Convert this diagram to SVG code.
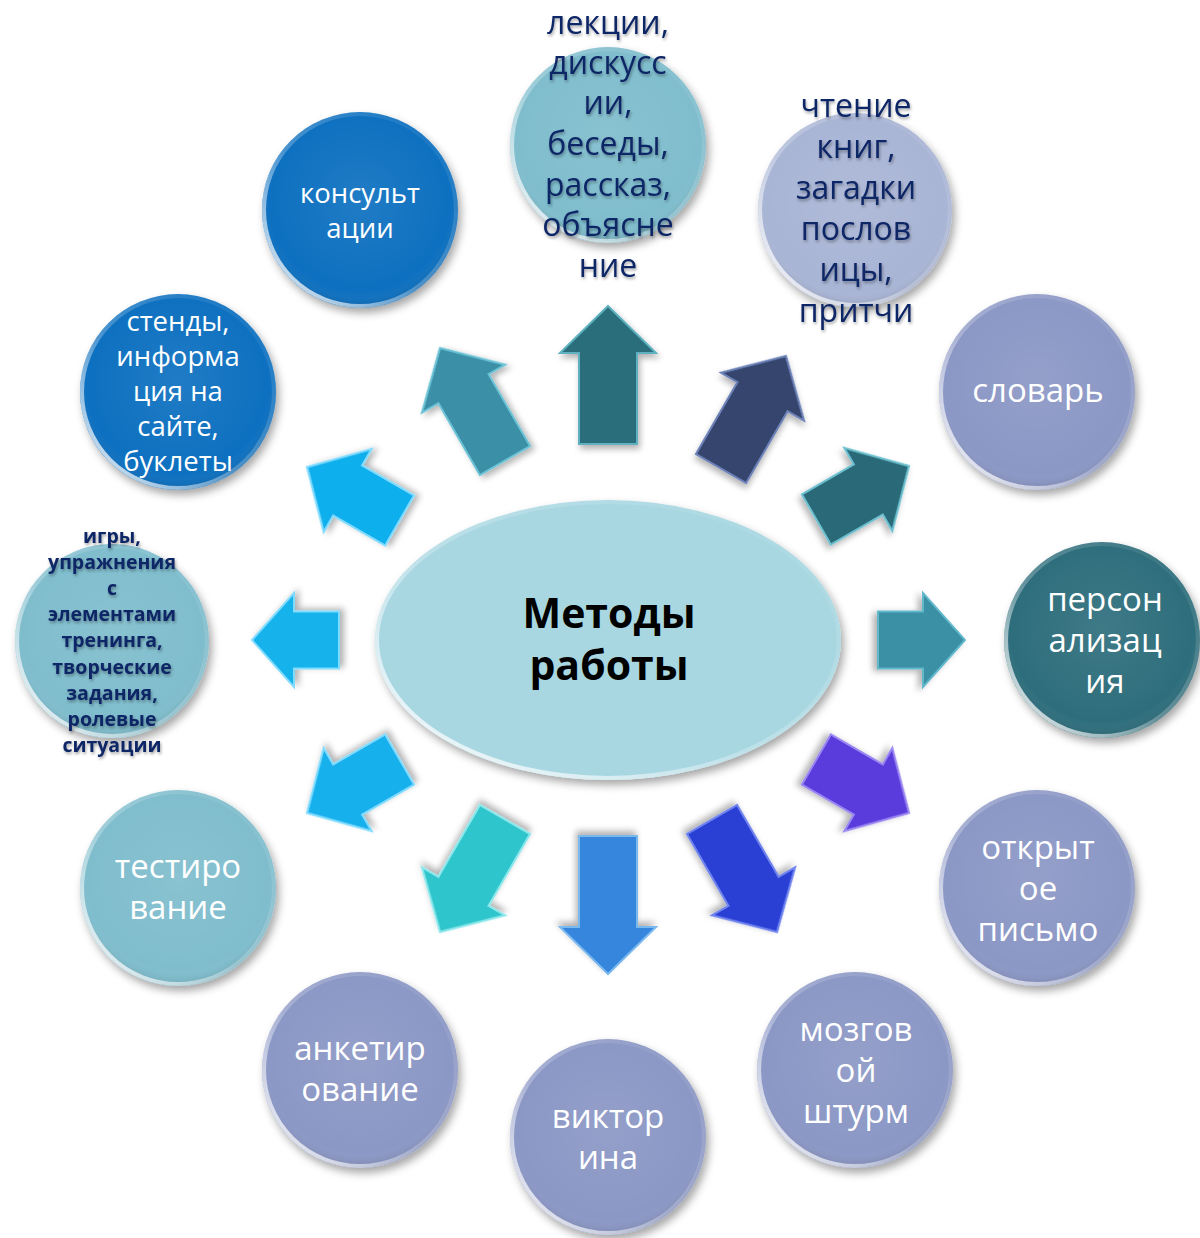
<svg xmlns="http://www.w3.org/2000/svg" xmlns:xlink="http://www.w3.org/1999/xlink" width="1200" height="1238" viewBox="0 0 1200 1238">
<style>
.t{font-family:"Open Sans","Noto Sans","DejaVu Sans",sans-serif;text-anchor:middle}
.w{fill:#ffffff;font-size:33px}
.ws{fill:#ffffff;font-size:27.5px}
.n{fill:#0f2566;font-size:32px}
.nb{fill:#0f2566;font-size:19.5px;font-weight:bold}
.c{fill:#000000;font-size:41px;font-weight:bold}
.btn{filter:url(#sh)}
.rim{fill:none;stroke:url(#rimg);stroke-width:4}
.gl{fill:url(#gloss)}
.arr{filter:url(#sh2);stroke-width:2;stroke-linejoin:miter}
.tsh{filter:url(#tglow)}
</style>
<defs>
<filter id="sh" x="-20%" y="-20%" width="140%" height="140%">
<feDropShadow dx="3" dy="5" stdDeviation="4" flood-color="#000" flood-opacity="0.35"/>
</filter>
<filter id="sh2" x="-30%" y="-30%" width="160%" height="160%">
<feDropShadow dx="2" dy="4" stdDeviation="3" flood-color="#000" flood-opacity="0.3"/>
</filter>
<filter id="tglow" x="-10%" y="-10%" width="120%" height="130%">
<feDropShadow dx="1" dy="2" stdDeviation="1.5" flood-color="#000" flood-opacity="0.35"/>
</filter>
<linearGradient id="rimg" x1="0" y1="1" x2="1" y2="0">
<stop offset="0" stop-color="#ffffff" stop-opacity="0.95"/>
<stop offset="0.45" stop-color="#ffffff" stop-opacity="0.25"/>
<stop offset="1" stop-color="#ffffff" stop-opacity="0"/>
</linearGradient>
<radialGradient id="gloss" cx="0.5" cy="0.45" r="0.55">
<stop offset="0" stop-color="#ffffff" stop-opacity="0.08"/>
<stop offset="0.85" stop-color="#ffffff" stop-opacity="0"/>
<stop offset="1" stop-color="#000000" stop-opacity="0.12"/>
</radialGradient>
<path id="a138" d="M0,0 L48,47 L29,47 L29,138 L-29,138 L-29,47 L-48,47 Z"/>
<path id="a130" d="M0,0 L48,47 L29,47 L29,130 L-29,130 L-29,47 L-48,47 Z"/>
<path id="a107" d="M0,0 L48,47 L29,47 L29,107 L-29,107 L-29,47 L-48,47 Z"/>
<path id="a87" d="M0,0 L47,42 L28.5,42 L28.5,87 L-28.5,87 L-28.5,42 L-47,42 Z"/>
</defs>
<rect width="1200" height="1238" fill="#ffffff"/>

<g id="connectors">
<use xlink:href="#a138" class="arr" fill="#2b6e7c" stroke="#5fb0c0" transform="translate(608,306)"/>
<use xlink:href="#a130" class="arr" fill="#3a8fa6" stroke="#6cc3d6" transform="translate(440,348) rotate(-30)"/>
<use xlink:href="#a130" class="arr" fill="#35446e" stroke="#6c82b8" transform="translate(786,356) rotate(30)"/>
<use xlink:href="#a107" class="arr" fill="#2a6b78" stroke="#6cc0cf" transform="translate(909,466) rotate(60)"/>
<use xlink:href="#a87" class="arr" fill="#3a90a6" stroke="#62b8cb" transform="translate(965,640) rotate(90)"/>
<use xlink:href="#a107" class="arr" fill="#5a3bdc" stroke="#9a86f2" transform="translate(909,813) rotate(120)"/>
<use xlink:href="#a130" class="arr" fill="#2a3fd4" stroke="#6f84f0" transform="translate(777,932) rotate(150)"/>
<use xlink:href="#a138" class="arr" fill="#3486dc" stroke="#7ab8f0" transform="translate(608,974) rotate(180)"/>
<use xlink:href="#a130" class="arr" fill="#2ec6cc" stroke="#8ae8ec" transform="translate(440,932) rotate(-150)"/>
<use xlink:href="#a107" class="arr" fill="#14b0ec" stroke="#7fdcff" transform="translate(307,813) rotate(-120)"/>
<use xlink:href="#a87" class="arr" fill="#19b2ec" stroke="#7fdcff" transform="translate(252,640) rotate(-90)"/>
<use xlink:href="#a107" class="arr" fill="#10b0ec" stroke="#7fdcff" transform="translate(307,467) rotate(-60)"/>
</g>

<g id="center">
<ellipse cx="608" cy="640" rx="233" ry="140" fill="#a8d7e2" class="btn"/>
<ellipse cx="608" cy="640" rx="231" ry="138" class="rim"/>
<text class="t c" x="609" y="628">Методы</text>
<text class="t c" x="609" y="680">работы</text>
</g>

<g id="n-konsult">
<circle cx="360" cy="210" r="98" fill="#0b70c0" class="btn"/>
<circle cx="360" cy="210" r="98" class="gl"/>
<circle cx="360" cy="210" r="96" class="rim"/>
<text class="t ws" x="360" y="203">консульт</text>
<text class="t ws" x="360" y="238">ации</text>
</g>

<g id="n-lekcii">
<circle cx="608" cy="145" r="98" fill="#7fbdcd" class="btn"/>
<circle cx="608" cy="145" r="98" class="gl"/>
<circle cx="608" cy="145" r="96" class="rim"/>
<g class="tsh">
<text class="t n" x="608" y="34">лекции,</text>
<text class="t n" x="608" y="74">дискусс</text>
<text class="t n" x="608" y="114">ии,</text>
<text class="t n" x="608" y="155">беседы,</text>
<text class="t n" x="608" y="196">рассказ,</text>
<text class="t n" x="608" y="236">объясне</text>
<text class="t n" x="608" y="277">ние</text>
</g>
</g>

<g id="n-chtenie">
<circle cx="855" cy="210" r="97" fill="#a9b5d5" class="btn"/>
<circle cx="855" cy="210" r="97" class="gl"/>
<circle cx="855" cy="210" r="95" class="rim"/>
<g class="tsh">
<text class="t n" x="856" y="117">чтение</text>
<text class="t n" x="856" y="158">книг,</text>
<text class="t n" x="856" y="199">загадки</text>
<text class="t n" x="856" y="240">послов</text>
<text class="t n" x="856" y="281">ицы,</text>
<text class="t n" x="856" y="322">притчи</text>
</g>
</g>

<g id="n-slovar">
<circle cx="1037" cy="392" r="98" fill="#8b97c5" class="btn"/>
<circle cx="1037" cy="392" r="98" class="gl"/>
<circle cx="1037" cy="392" r="96" class="rim"/>
<text class="t w" x="1038" y="402">словарь</text>
</g>

<g id="n-person">
<circle cx="1102" cy="640" r="98" fill="#2d6e7b" class="btn"/>
<circle cx="1102" cy="640" r="98" class="gl"/>
<circle cx="1102" cy="640" r="96" class="rim"/>
<text class="t w" x="1105" y="611">персон</text>
<text class="t w" x="1105" y="652">ализац</text>
<text class="t w" x="1105" y="693">ия</text>
</g>

<g id="n-otkryt">
<circle cx="1037" cy="888" r="98" fill="#8b97c5" class="btn"/>
<circle cx="1037" cy="888" r="98" class="gl"/>
<circle cx="1037" cy="888" r="96" class="rim"/>
<text class="t w" x="1038" y="859">открыт</text>
<text class="t w" x="1038" y="900">ое</text>
<text class="t w" x="1038" y="941">письмо</text>
</g>

<g id="n-mozg">
<circle cx="855" cy="1070" r="98" fill="#8b97c5" class="btn"/>
<circle cx="855" cy="1070" r="98" class="gl"/>
<circle cx="855" cy="1070" r="96" class="rim"/>
<text class="t w" x="856" y="1041">мозгов</text>
<text class="t w" x="856" y="1082">ой</text>
<text class="t w" x="856" y="1123">штурм</text>
</g>

<g id="n-viktor">
<circle cx="608" cy="1137" r="98" fill="#8b97c5" class="btn"/>
<circle cx="608" cy="1137" r="98" class="gl"/>
<circle cx="608" cy="1137" r="96" class="rim"/>
<text class="t w" x="608" y="1128">виктор</text>
<text class="t w" x="608" y="1169">ина</text>
</g>

<g id="n-anket">
<circle cx="360" cy="1070" r="98" fill="#8b97c5" class="btn"/>
<circle cx="360" cy="1070" r="98" class="gl"/>
<circle cx="360" cy="1070" r="96" class="rim"/>
<text class="t w" x="360" y="1060">анкетир</text>
<text class="t w" x="360" y="1101">ование</text>
</g>

<g id="n-test">
<circle cx="178" cy="888" r="98" fill="#7fbdcd" class="btn"/>
<circle cx="178" cy="888" r="98" class="gl"/>
<circle cx="178" cy="888" r="96" class="rim"/>
<text class="t w" x="178" y="878">тестиро</text>
<text class="t w" x="178" y="919">вание</text>
</g>

<g id="n-igry">
<circle cx="112" cy="641" r="97" fill="#7fbdcd" class="btn"/>
<circle cx="112" cy="641" r="97" class="gl"/>
<circle cx="112" cy="641" r="95" class="rim"/>
<g class="tsh">
<text class="t nb" x="112" y="543">игры,</text>
<text class="t nb" x="112" y="569">упражнения</text>
<text class="t nb" x="112" y="595">с</text>
<text class="t nb" x="112" y="621">элементами</text>
<text class="t nb" x="112" y="647">тренинга,</text>
<text class="t nb" x="112" y="674">творческие</text>
<text class="t nb" x="112" y="700">задания,</text>
<text class="t nb" x="112" y="726">ролевые</text>
<text class="t nb" x="112" y="752">ситуации</text>
</g>
</g>

<g id="n-stendy">
<circle cx="178" cy="392" r="98" fill="#0b70c0" class="btn"/>
<circle cx="178" cy="392" r="98" class="gl"/>
<circle cx="178" cy="392" r="96" class="rim"/>
<text class="t ws" x="178" y="331">стенды,</text>
<text class="t ws" x="178" y="366">информа</text>
<text class="t ws" x="178" y="401">ция на</text>
<text class="t ws" x="178" y="436">сайте,</text>
<text class="t ws" x="178" y="471">буклеты</text>
</g>
</svg>
